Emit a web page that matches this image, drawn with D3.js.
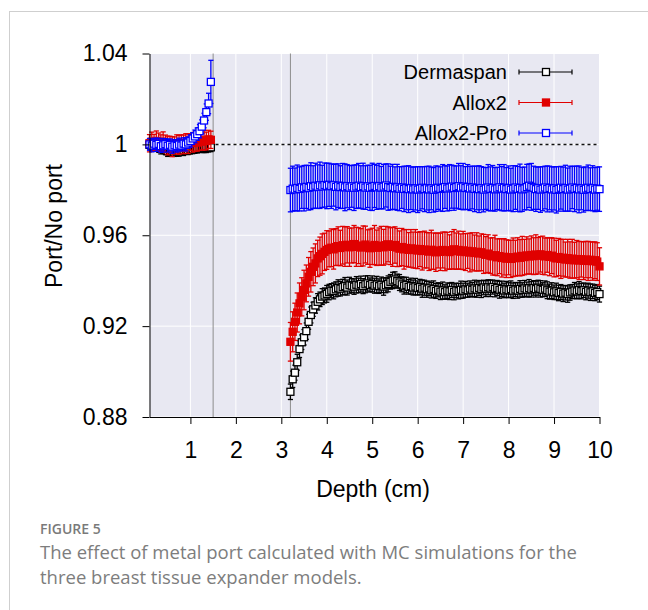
<!DOCTYPE html>
<html>
<head>
<meta charset="utf-8">
<script src="https://cdn.jsdelivr.net/npm/d3@7"></script>
<style>
  body { margin: 0; background: #fff; }
  svg { display: block; font-family: "Liberation Sans", Arial, sans-serif; }
</style>
</head>
<body>
<div id="chart"></div>
<script>
// depth grids (cm), sampled every 0.05 cm on both sides of the port
const depthLeft = d3.range(0.10, 1.451, 0.05);   // 28 points
const depthRight = d3.range(3.20, 10.001, 0.05); // 137 points

const yTicks = [0.88, 0.92, 0.96, 1, 1.04];
const xTicks = [1, 2, 3, 4, 5, 6, 7, 8, 9, 10];
const seriesNames = ["Dermaspan", "Allox2", "Allox2-Pro"];

// Dermaspan
const dermaLeft = [0.9998,0.9995,0.9990,0.9992,0.9985,0.9980,0.9982,0.9975,0.9970,0.9968,
  0.9972,0.9965,0.9970,0.9968,0.9975,0.9972,0.9978,0.9975,0.9980,0.9978,
  0.9982,0.9980,0.9985,0.9983,0.9986,0.9984,0.9988,0.9987];
const dermaLeftErr = [0.0018,0.0020,0.0017,0.0021,0.0019,0.0022,0.0018,0.0020,0.0023,0.0019,
  0.0021,0.0018,0.0022,0.0020,0.0019,0.0021,0.0018,0.0020,0.0022,0.0019,
  0.0021,0.0018,0.0020,0.0019,0.0022,0.0020,0.0021,0.0019];
const dermaRight = [0.8911,0.8966,0.8995,0.9041,0.9099,0.9129,0.9151,0.9178,0.9219,0.9249,
  0.9274,0.9291,0.9307,0.9318,0.9330,0.9335,0.9342,0.9350,0.9356,0.9355,
  0.9362,0.9368,0.9365,0.9372,0.9376,0.9370,0.9380,0.9378,0.9374,0.9382,
  0.9379,0.9385,0.9376,0.9384,0.9388,0.9381,0.9386,0.9378,0.9383,0.9376,
  0.9382,0.9374,0.9380,0.9386,0.9395,0.9401,0.9405,0.9398,0.9392,0.9384,
  0.9378,0.9381,0.9373,0.9376,0.9370,0.9374,0.9368,0.9372,0.9365,0.9369,
  0.9362,0.9366,0.9358,0.9363,0.9355,0.9360,0.9352,0.9357,0.9350,0.9356,
  0.9353,0.9359,0.9351,0.9357,0.9354,0.9360,0.9356,0.9362,0.9358,0.9365,
  0.9360,0.9366,0.9361,0.9368,0.9363,0.9370,0.9365,0.9371,0.9366,0.9372,
  0.9364,0.9368,0.9360,0.9364,0.9357,0.9362,0.9358,0.9363,0.9356,0.9361,
  0.9357,0.9364,0.9359,0.9366,0.9361,0.9367,0.9362,0.9368,0.9363,0.9369,
  0.9364,0.9360,0.9365,0.9358,0.9352,0.9356,0.9349,0.9353,0.9346,0.9350,
  0.9343,0.9347,0.9341,0.9348,0.9352,0.9357,0.9353,0.9359,0.9354,0.9358,
  0.9351,0.9356,0.9349,0.9353,0.9346,0.9350,0.9341];
const dermaRightErr = [0.0034,0.0036,0.0033,0.0035,0.0037,0.0032,0.0034,0.0036,0.0033,0.0035,
  0.0031,0.0034,0.0036,0.0032,0.0035,0.0033,0.0037,0.0034,0.0031,0.0035,
  0.0033,0.0036,0.0032,0.0034,0.0038,0.0033,0.0035,0.0031,0.0034,0.0036,
  0.0032,0.0035,0.0033,0.0037,0.0034,0.0031,0.0035,0.0033,0.0036,0.0032,
  0.0034,0.0038,0.0033,0.0035,0.0032,0.0036,0.0034,0.0031,0.0035,0.0033,
  0.0037,0.0034,0.0032,0.0035,0.0033,0.0036,0.0031,0.0034,0.0038,0.0033,
  0.0035,0.0032,0.0034,0.0036,0.0033,0.0031,0.0035,0.0037,0.0032,0.0034,
  0.0036,0.0033,0.0035,0.0032,0.0034,0.0038,0.0033,0.0035,0.0031,0.0034,
  0.0032,0.0036,0.0034,0.0033,0.0037,0.0032,0.0035,0.0033,0.0036,0.0031,
  0.0035,0.0033,0.0037,0.0034,0.0032,0.0035,0.0033,0.0036,0.0034,0.0031,
  0.0034,0.0036,0.0032,0.0035,0.0033,0.0038,0.0034,0.0032,0.0035,0.0033,
  0.0036,0.0031,0.0034,0.0037,0.0033,0.0035,0.0032,0.0036,0.0034,0.0033,
  0.0035,0.0032,0.0036,0.0034,0.0031,0.0035,0.0033,0.0037,0.0034,0.0032,
  0.0035,0.0033,0.0036,0.0032,0.0034,0.0033,0.0035];

// Allox2
const alloxLeft = [1.0005,1.0012,1.0008,1.0015,1.0010,1.0005,1.0012,1.0002,0.9995,1.0000,
  0.9990,0.9995,1.0002,0.9998,1.0005,1.0000,1.0008,1.0003,1.0010,1.0006,
  1.0012,1.0008,1.0015,1.0012,1.0018,1.0015,1.0022,1.0020];
const alloxLeftErr = [0.0038,0.0042,0.0036,0.0044,0.0040,0.0037,0.0043,0.0039,0.0041,0.0036,
  0.0044,0.0038,0.0040,0.0042,0.0037,0.0041,0.0039,0.0043,0.0036,0.0040,
  0.0042,0.0038,0.0041,0.0037,0.0043,0.0039,0.0040,0.0038];
const alloxRight = [0.9131,0.9175,0.9219,0.9260,0.9300,0.9329,0.9359,0.9388,0.9417,0.9439,
  0.9461,0.9476,0.9498,0.9508,0.9518,0.9527,0.9535,0.9540,0.9545,0.9538,
  0.9548,0.9552,0.9544,0.9556,0.9550,0.9558,0.9547,0.9555,0.9561,0.9549,
  0.9554,0.9546,0.9553,0.9559,0.9548,0.9543,0.9551,0.9557,0.9545,0.9550,
  0.9554,0.9547,0.9556,0.9560,0.9552,0.9549,0.9557,0.9546,0.9541,0.9548,
  0.9538,0.9544,0.9536,0.9542,0.9535,0.9540,0.9533,0.9539,0.9531,0.9537,
  0.9534,0.9528,0.9536,0.9530,0.9525,0.9533,0.9527,0.9535,0.9529,0.9532,
  0.9526,0.9534,0.9538,0.9530,0.9535,0.9528,0.9533,0.9526,0.9531,0.9524,
  0.9529,0.9522,0.9527,0.9520,0.9525,0.9518,0.9514,0.9519,0.9510,0.9507,
  0.9512,0.9503,0.9508,0.9500,0.9505,0.9497,0.9502,0.9496,0.9503,0.9499,
  0.9506,0.9501,0.9509,0.9504,0.9511,0.9507,0.9513,0.9508,0.9515,0.9510,
  0.9516,0.9512,0.9507,0.9513,0.9505,0.9510,0.9502,0.9498,0.9504,0.9496,
  0.9501,0.9493,0.9499,0.9491,0.9497,0.9490,0.9495,0.9489,0.9494,0.9488,
  0.9493,0.9487,0.9492,0.9486,0.9490,0.9484,0.9463];
const alloxRightErr = [0.0085,0.0088,0.0082,0.0086,0.0090,0.0084,0.0087,0.0081,0.0085,0.0089,
  0.0083,0.0086,0.0080,0.0084,0.0088,0.0082,0.0085,0.0079,0.0083,0.0087,
  0.0081,0.0085,0.0078,0.0083,0.0087,0.0080,0.0084,0.0077,0.0082,0.0086,
  0.0079,0.0083,0.0088,0.0081,0.0076,0.0084,0.0080,0.0086,0.0078,0.0082,
  0.0085,0.0079,0.0083,0.0077,0.0081,0.0086,0.0080,0.0084,0.0078,0.0082,
  0.0087,0.0081,0.0076,0.0083,0.0079,0.0085,0.0080,0.0077,0.0084,0.0081,
  0.0078,0.0083,0.0086,0.0080,0.0084,0.0077,0.0082,0.0079,0.0085,0.0081,
  0.0076,0.0082,0.0087,0.0080,0.0083,0.0078,0.0084,0.0081,0.0077,0.0085,
  0.0082,0.0079,0.0084,0.0077,0.0081,0.0086,0.0080,0.0083,0.0078,0.0082,
  0.0088,0.0081,0.0077,0.0084,0.0080,0.0083,0.0076,0.0082,0.0085,0.0079,
  0.0083,0.0080,0.0086,0.0078,0.0082,0.0077,0.0084,0.0081,0.0087,0.0080,
  0.0078,0.0084,0.0081,0.0076,0.0083,0.0079,0.0085,0.0080,0.0082,0.0086,
  0.0081,0.0077,0.0083,0.0080,0.0085,0.0079,0.0082,0.0084,0.0078,0.0083,
  0.0080,0.0086,0.0079,0.0084,0.0081,0.0083,0.0082];

// Allox2-Pro
const proLeft = [1.0000,0.9995,1.0003,0.9998,1.0002,0.9992,0.9996,1.0001,0.9994,0.9998,
  0.9990,0.9996,0.9993,0.9999,0.9995,1.0003,1.0000,1.0008,1.0015,1.0026,
  1.0035,1.0045,1.0058,1.0078,1.0105,1.0142,1.0180,1.0275];
const proLeftErr = [0.0026,0.0028,0.0024,0.0029,0.0025,0.0027,0.0030,0.0024,0.0028,0.0026,
  0.0029,0.0025,0.0027,0.0028,0.0024,0.0026,0.0029,0.0025,0.0027,0.0026,
  0.0028,0.0027,0.0029,0.0030,0.0032,0.0036,0.0045,0.0095];
const proRight = [0.9799,0.9805,0.9802,0.9808,0.9804,0.9811,0.9807,0.9813,0.9809,0.9816,
  0.9812,0.9818,0.9814,0.9820,0.9815,0.9821,0.9817,0.9822,0.9816,0.9820,
  0.9813,0.9818,0.9812,0.9817,0.9811,0.9816,0.9810,0.9815,0.9809,0.9814,
  0.9818,0.9812,0.9816,0.9810,0.9815,0.9809,0.9813,0.9817,0.9811,0.9816,
  0.9810,0.9814,0.9819,0.9812,0.9808,0.9813,0.9807,0.9811,0.9805,0.9810,
  0.9804,0.9808,0.9803,0.9807,0.9802,0.9806,0.9801,0.9805,0.9809,0.9803,
  0.9807,0.9802,0.9806,0.9800,0.9805,0.9809,0.9804,0.9808,0.9812,0.9806,
  0.9810,0.9814,0.9808,0.9812,0.9816,0.9810,0.9814,0.9808,0.9812,0.9806,
  0.9810,0.9804,0.9808,0.9803,0.9807,0.9801,0.9806,0.9810,0.9804,0.9808,
  0.9802,0.9806,0.9811,0.9805,0.9809,0.9803,0.9807,0.9801,0.9805,0.9810,
  0.9804,0.9808,0.9802,0.9806,0.9812,0.9818,0.9813,0.9809,0.9803,0.9807,
  0.9801,0.9805,0.9810,0.9804,0.9808,0.9802,0.9806,0.9800,0.9804,0.9809,
  0.9803,0.9807,0.9801,0.9805,0.9810,0.9804,0.9808,0.9802,0.9806,0.9800,
  0.9805,0.9809,0.9803,0.9807,0.9801,0.9805,0.9803];
const proRightErr = [0.0096,0.0099,0.0094,0.0101,0.0097,0.0093,0.0100,0.0095,0.0098,0.0103,
  0.0094,0.0099,0.0096,0.0102,0.0093,0.0097,0.0100,0.0095,0.0098,0.0092,
  0.0101,0.0096,0.0094,0.0099,0.0103,0.0095,0.0097,0.0092,0.0100,0.0096,
  0.0098,0.0094,0.0101,0.0096,0.0093,0.0099,0.0104,0.0095,0.0097,0.0100,
  0.0093,0.0098,0.0095,0.0102,0.0096,0.0099,0.0094,0.0101,0.0097,0.0092,
  0.0100,0.0096,0.0103,0.0094,0.0098,0.0095,0.0101,0.0097,0.0093,0.0099,
  0.0096,0.0102,0.0094,0.0098,0.0100,0.0095,0.0097,0.0103,0.0094,0.0099,
  0.0101,0.0095,0.0098,0.0093,0.0100,0.0096,0.0102,0.0094,0.0099,0.0097,
  0.0094,0.0100,0.0096,0.0103,0.0095,0.0098,0.0092,0.0101,0.0097,0.0099,
  0.0096,0.0093,0.0100,0.0097,0.0102,0.0095,0.0098,0.0094,0.0101,0.0096,
  0.0099,0.0105,0.0097,0.0094,0.0100,0.0096,0.0103,0.0095,0.0098,0.0093,
  0.0100,0.0097,0.0094,0.0101,0.0096,0.0099,0.0095,0.0102,0.0098,0.0094,
  0.0097,0.0101,0.0095,0.0099,0.0093,0.0100,0.0096,0.0103,0.0094,0.0098,
  0.0096,0.0100,0.0094,0.0099,0.0097,0.0095,0.0098];

// port region boundaries (cm)
const portEdges = [1.5, 3.2];

const W = 648, H = 610;
const margin = {left: 149.5, right: 599.5, top: 53.5, bottom: 417};

function toPoints(depths, vals, errs) {
  return depths.map((d, i) => ({x: d, y: vals[i], e: errs[i]}));
}

const series = [
  {name: seriesNames[0], color: "#000000", fill: "#ffffff",
   pts: toPoints(depthLeft, dermaLeft, dermaLeftErr).concat(toPoints(depthRight, dermaRight, dermaRightErr))},
  {name: seriesNames[1], color: "#e00000", fill: "#e00000",
   pts: toPoints(depthLeft, alloxLeft, alloxLeftErr).concat(toPoints(depthRight, alloxRight, alloxRightErr))},
  {name: seriesNames[2], color: "#0000ff", fill: "#ffffff",
   pts: toPoints(depthLeft, proLeft, proLeftErr).concat(toPoints(depthRight, proRight, proRightErr))}
];

const svg = d3.select("#chart").append("svg")
  .attr("width", W).attr("height", H);

// card border
svg.append("rect")
  .attr("x", 9.5).attr("y", 11.5)
  .attr("width", 800).attr("height", 800)
  .attr("fill", "#fff").attr("stroke", "#cfcfcf");

const x = d3.scaleLinear().domain([0.1, 10]).range([margin.left, margin.right]);
const y = d3.scaleLinear().domain([0.88, 1.04]).range([margin.bottom, margin.top]);

// plot background
svg.append("rect")
  .attr("x", margin.left).attr("y", margin.top)
  .attr("width", margin.right - margin.left)
  .attr("height", margin.bottom - margin.top)
  .attr("fill", "#e8e8f2");

// white grid
svg.append("g").selectAll("line").data(xTicks).join("line")
  .attr("x1", d => x(d)).attr("x2", d => x(d))
  .attr("y1", margin.top).attr("y2", margin.bottom)
  .attr("stroke", "#fff").attr("stroke-width", 1);
svg.append("g").selectAll("line").data(yTicks).join("line")
  .attr("x1", margin.left).attr("x2", margin.right)
  .attr("y1", d => y(d)).attr("y2", d => y(d))
  .attr("stroke", "#fff").attr("stroke-width", 1);

// port edges
svg.append("g").selectAll("line").data(portEdges).join("line")
  .attr("x1", d => x(d)).attr("x2", d => x(d))
  .attr("y1", margin.top).attr("y2", margin.bottom)
  .attr("stroke", "#8c8c8c").attr("stroke-width", 1);

// reference line at 1
svg.append("line")
  .attr("x1", margin.left).attr("x2", margin.right)
  .attr("y1", y(1)).attr("y2", y(1))
  .attr("stroke", "#111").attr("stroke-width", 1.5)
  .attr("stroke-dasharray", "3,3");

const cap = 2.6, ms = 7;

series.forEach(s => {
  const g = svg.append("g");
  const bars = g.selectAll("g.eb").data(s.pts).join("g").attr("class", "eb")
    .attr("stroke", s.color).attr("stroke-width", 1.3);
  bars.append("line")
    .attr("x1", d => x(d.x)).attr("x2", d => x(d.x))
    .attr("y1", d => y(d.y - d.e)).attr("y2", d => y(d.y + d.e));
  bars.append("line")
    .attr("x1", d => x(d.x) - cap).attr("x2", d => x(d.x) + cap)
    .attr("y1", d => y(d.y + d.e)).attr("y2", d => y(d.y + d.e));
  bars.append("line")
    .attr("x1", d => x(d.x) - cap).attr("x2", d => x(d.x) + cap)
    .attr("y1", d => y(d.y - d.e)).attr("y2", d => y(d.y - d.e));
  g.selectAll("rect").data(s.pts).join("rect")
    .attr("x", d => x(d.x) - ms / 2).attr("y", d => y(d.y) - ms / 2)
    .attr("width", ms).attr("height", ms)
    .attr("fill", s.fill).attr("stroke", s.color).attr("stroke-width", 1.3);
});

// axes
const yAxis = svg.append("g")
  .attr("transform", `translate(${margin.left},0)`)
  .call(d3.axisLeft(y).tickValues(yTicks).tickFormat(d => String(d))
    .tickSize(7).tickSizeOuter(0).tickPadding(15));
const xAxis = svg.append("g")
  .attr("transform", `translate(0,${margin.bottom})`)
  .call(d3.axisBottom(x).tickValues(xTicks).tickFormat(d => String(d))
    .tickSize(7).tickSizeOuter(0).tickPadding(18));
[yAxis, xAxis].forEach(a => {
  a.selectAll("text").attr("font-size", 23).attr("fill", "#000")
    .attr("font-family", "Liberation Sans, Arial, sans-serif");
  a.select(".domain").attr("stroke", "#000");
  a.selectAll(".tick line").attr("stroke", "#000");
});

svg.append("text")
  .attr("transform", "translate(62,226) rotate(-90)")
  .attr("text-anchor", "middle").attr("font-size", 23)
  .text("Port/No port");
svg.append("text")
  .attr("x", 373).attr("y", 497)
  .attr("text-anchor", "middle").attr("font-size", 23)
  .text("Depth (cm)");

// legend
const leg = svg.append("g");
series.forEach((s, i) => {
  const ly = 72 + i * 30.5;
  leg.append("text").attr("x", 507).attr("y", ly + 7)
    .attr("text-anchor", "end").attr("font-size", 20).text(s.name);
  leg.append("line").attr("x1", 519).attr("x2", 572).attr("y1", ly).attr("y2", ly)
    .attr("stroke", s.color).attr("stroke-width", 1.2);
  [519, 572].forEach(cx => leg.append("line")
    .attr("x1", cx).attr("x2", cx).attr("y1", ly - 2.5).attr("y2", ly + 2.5)
    .attr("stroke", s.color).attr("stroke-width", 1.2));
  leg.append("rect").attr("x", 546 - ms / 2).attr("y", ly - ms / 2)
    .attr("width", ms).attr("height", ms)
    .attr("fill", s.fill).attr("stroke", s.color).attr("stroke-width", 1.3);
});

// caption
svg.append("text").attr("x", 40).attr("y", 534)
  .attr("font-family", "Open Sans, sans-serif").attr("font-size", 14)
  .attr("font-weight", 600).attr("fill", "#7a7a7a")
  .text("FIGURE 5");
const capLines = ["The effect of metal port calculated with MC simulations for the",
  "three breast tissue expander models."];
svg.append("g").selectAll("text").data(capLines).join("text")
  .attr("x", 40).attr("y", (d, i) => 559 + i * 25)
  .attr("font-family", "Open Sans, sans-serif").attr("font-size", 18.5)
  .attr("fill", "#7d7d7d")
  .text(d => d);
</script>
</body>
</html>
